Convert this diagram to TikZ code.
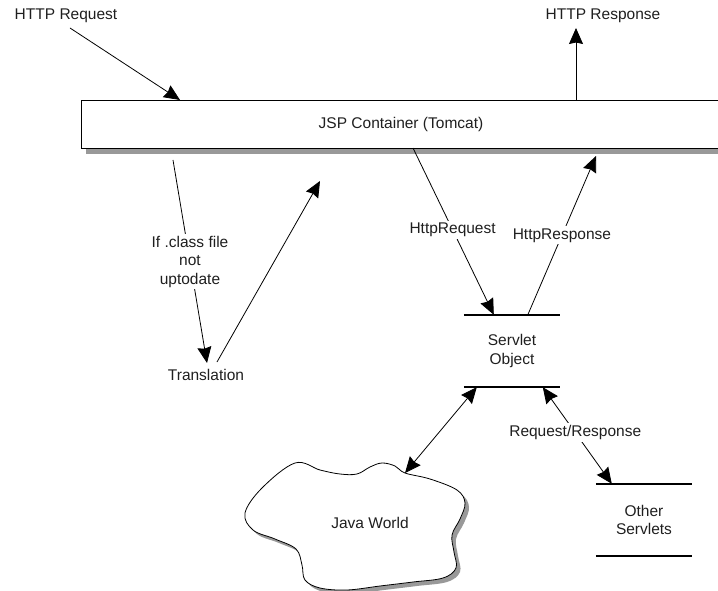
\documentclass[tikz,border=0pt]{standalone}
\usepackage{fontspec}
\setmainfont{Liberation Sans}
\usetikzlibrary{arrows.meta,shadows,calc}
\begin{document}
\begin{tikzpicture}[x=1pt,y=-1pt,
  lbl/.style={font=\fontsize{15.5}{18.5}\selectfont, text=black!88, inner sep=2pt, align=center},
  arr/.style={line width=0.8pt, -{Stealth[length=16pt,width=14pt,inset=1.5pt]}},
  darr/.style={line width=0.8pt, {Stealth[length=16pt,width=14pt,inset=1.5pt]}-{Stealth[length=16pt,width=14pt,inset=1.5pt]}},
  storebox/.style={lbl, minimum width=96pt, minimum height=72pt},
  storeline/.style={line width=2pt},
  cloudpts/.style={smooth cycle, tension=0.6}]
\clip (0,0) rectangle (718,591);
% labels
\node[lbl] (hreq) at (66,16) {HTTP Request};
\node[lbl] (hres) at (603,16) {HTTP Response};
% container
\node[lbl, draw=black, line width=0.8pt, fill=white, minimum width=640pt, minimum height=48pt,
      drop shadow={shadow xshift=5pt, shadow yshift=-6pt, fill=black!40, opacity=1}] (jsp) at (401,124) {JSP Container (Tomcat)};
\node[lbl] (trans) at (206,375) {Translation};
\node[storebox] (so) at (512,351) {Servlet\\Object};
\node[storebox] (os) at (644,520) {Other\\Servlets};
\draw[storeline] (so.north west) -- (so.north east);
\draw[storeline] (so.south west) -- (so.south east);
\draw[storeline] (os.north west) -- (os.north east);
\draw[storeline] (os.south west) -- (os.south east);
% cloud
\def\cloudcoords{(245,513) (262,488) (295,463) (320,470) (340,474) (357,474) (370,467) (382,463) (395,466) (405,473) (430,479) (457,490) (465,503) (460,519) (452,535) (454,552) (456,568) (443,578) (413,582) (380,586) (347,590) (320,588) (305,580) (302,565) (296,549) (275,539) (253,530)}
\fill[black!40, shift={(4,4)}] plot[cloudpts] coordinates {\cloudcoords};
\draw[line width=0.8pt, fill=white] plot[cloudpts] coordinates {\cloudcoords};
\node[lbl] (jw) at (370,523) {Java World};
% coordinates
\coordinate (reqS) at (70,28);
\coordinate (reqE) at (180,100);
\coordinate (resS) at (576,100);
\coordinate (resE) at (576,28);
\coordinate (ifS) at (173,160);
\coordinate (ifE) at (207,363);
\coordinate (trS) at (217,362);
\coordinate (trE) at (320,181);
\coordinate (hrS) at (413,148);
\coordinate (hrE) at ($(so.north west)+(30,0)$);
\coordinate (hpS) at ($(so.north west)+(64,0)$);
\coordinate (hpE) at (596,156);
\coordinate (jwS) at ($(so.south west)+(13,0)$);
\coordinate (jwE) at (405,473);
\coordinate (rrS) at ($(so.south west)+(79,0)$);
\coordinate (rrE) at ($(os.north west)+(16,0)$);
% connectors
\draw[arr] (reqS) -- (reqE);
\draw[arr] (resS) -- (resE);
\draw[arr] (ifS) -- (ifE) node[pos=0.5, lbl, fill=white] {If .class file\\not\\uptodate};
\draw[arr] (trS) -- (trE);
\draw[arr] (hrS) -- (hrE) node[pos=0.49, lbl, fill=white] {HttpRequest};
\draw[arr] (hpS) -- (hpE) node[pos=0.5, lbl, fill=white] {HttpResponse};
\draw[darr] (jwS) -- (jwE);
\draw[darr] (rrS) -- (rrE) node[pos=0.47, lbl, fill=white] {Request/Response};
\end{tikzpicture}
\end{document}
